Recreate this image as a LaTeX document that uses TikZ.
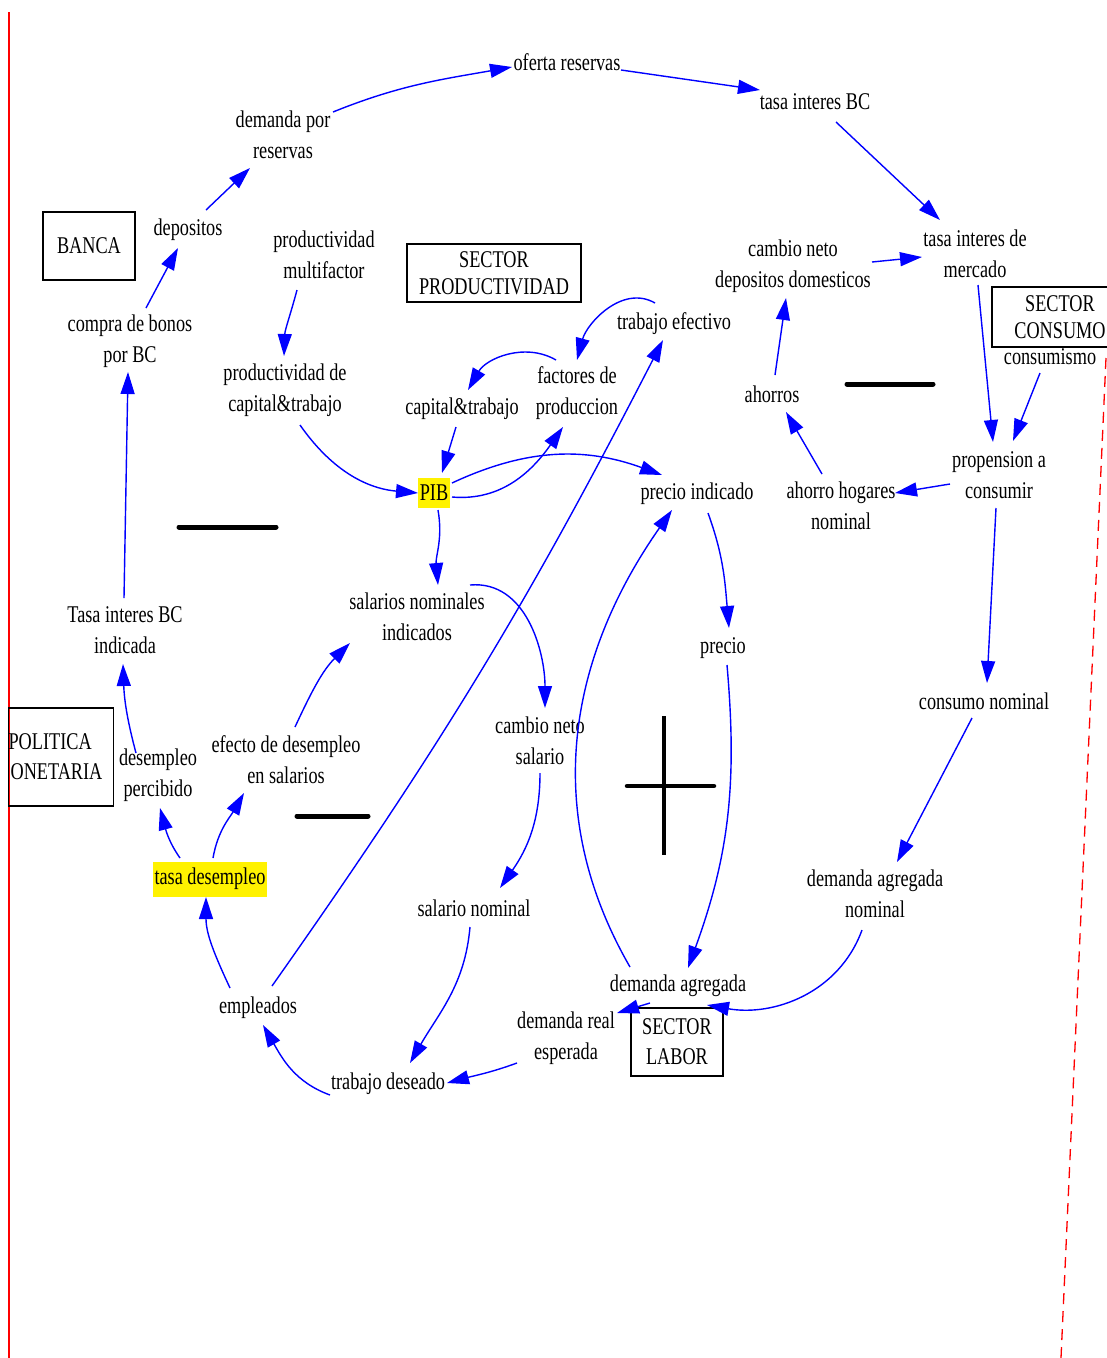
\documentclass[tikz,border=0pt]{standalone}
\usepackage{fontspec}
\setmainfont{Liberation Serif}[FakeStretch=0.76]
\usetikzlibrary{arrows.meta}
\begin{document}
\begin{tikzpicture}[x=1pt,y=1pt,
  lbl/.style={font=\fontsize{24}{31}\selectfont, align=center, inner sep=1pt},
  sect/.style={font=\fontsize{24}{27}\selectfont, align=center, draw=black, line width=1.2pt, inner sep=2pt},
  hl/.style={font=\fontsize{24}{31}\selectfont, fill=yellow, inner xsep=2pt, inner ysep=0pt},
  lnk/.style={draw=blue, line width=1.4pt, -{Triangle[length=22pt,width=14pt]}},
  bar/.style={line width=5pt, line cap=round},
]
\useasboundingbox (0,0) rectangle (1107,-1358);
\fill[white] (0,0) rectangle (1107,-1358);
% red margins
\draw[red, line width=1.6pt] (9,-12) -- (9,-1358);
\draw[red, line width=1.3pt, dash pattern=on 11pt off 7pt] (1106,-358) -- (1061,-1358);

% nodes
\node[lbl] (oferta) at (567,-62) {oferta reservas};
\node[lbl] (tibc) at (815,-102) {tasa interes BC};
\node[lbl] (demres) at (283,-135) {demanda por\\reservas};
\node[lbl] (depos) at (188,-230) {depositos};
\node[sect, minimum width=92, minimum height=68] (banca) at (89,-246) {BANCA};
\node[lbl] (pmf) at (324,-255) {productividad\\multifactor};
\node[sect, minimum width=174, minimum height=58] (sprod) at (494,-273) {SECTOR\\PRODUCTIVIDAD};
\node[lbl] (cndd) at (793,-266) {cambio neto\\depositos domesticos};
\node[lbl] (tim) at (975,-254) {tasa interes de\\mercado};
\node[sect, minimum width=136, minimum height=60] (scons) at (1060,-317) {SECTOR\\CONSUMO};
\node[lbl] (consm) at (1050,-357) {consumismo};
\node[lbl] (cbonos) at (130,-341) {compra de bonos\\por BC};
\node[lbl] (tefec) at (674,-324) {trabajo efectivo};
\node[lbl] (pct) at (285,-390) {productividad de\\capital\&trabajo};
\node[lbl] (ct) at (462,-409) {capital\&trabajo};
\node[lbl] (fprod) at (577,-393) {factores de\\produccion};
\node[lbl] (ahorros) at (772,-394) {ahorros};
\node[hl, minimum height=30] (pib) at (434,-493) {PIB};
\node[lbl] (pind) at (697,-494) {precio indicado};
\node[lbl] (prop) at (999,-475) {propension a\\consumir};
\node[lbl] (ahn) at (841,-506) {ahorro hogares\\nominal};
\node[lbl] (sni) at (417,-617) {salarios nominales\\indicados};
\node[lbl] (tibci) at (125,-630) {Tasa interes BC\\indicada};
\node[lbl] (precio) at (723,-648) {precio};
\node[lbl] (cnom) at (984,-701) {consumo nominal};
\node[sect, font=\fontsize{24}{30}\selectfont, minimum height=98, anchor=west, inner xsep=0pt, text width=105, align=left] (polm) at (8,-757) {POLITICA\\\hspace*{2pt}ONETARIA};
\node[lbl] (cns) at (540,-741) {cambio neto\\salario};
\node[lbl] (dper) at (158,-775) {desempleo\\percibido};
\node[lbl] (efd) at (286,-760) {efecto de desempleo\\en salarios};
\node[hl, minimum height=35] (tdes) at (210,-879) {tasa desempleo};
\node[lbl] (dan) at (875,-894) {demanda agregada\\nominal};
\node[lbl] (snom) at (474,-908) {salario nominal};
\node[lbl] (dagr) at (678,-986) {demanda agregada};
\node[lbl] (empl) at (258,-1008) {empleados};
\node[lbl] (dre) at (566,-1038) {demanda real\\esperada};
\node[sect, font=\fontsize{24}{30}\selectfont, minimum width=92, minimum height=68] (slab) at (677,-1042) {SECTOR\\LABOR};
\node[lbl] (tdeseado) at (388,-1084) {trabajo deseado};

% loop polarity marks
\draw[bar] (179,-527) -- (276,-527);
\draw[bar] (847,-384) -- (933,-384);
\draw[bar] (297,-816) -- (368,-816);
\draw[line width=4.5pt] (664,-716) -- (664,-855);
\draw[line width=4.5pt, line cap=round] (627,-786) -- (714,-786);

% connectors
\draw[lnk] ([shift={(50,23)}]demres.center) to[out=22,in=190] ([shift={(-55,-5)}]oferta.center);
\draw[lnk] ([shift={(54,-8)}]oferta.center) -- ([shift={(-55,12)}]tibc.center);
\draw[lnk] ([shift={(21,-20)}]tibc.center) -- ([shift={(-35,34)}]tim.center);
\draw[lnk] ([shift={(18,20)}]depos.center) -- ([shift={(-33,-33)}]demres.center);
\draw[lnk] ([shift={(16,33)}]cbonos.center) -- ([shift={(-10,-18)}]depos.center);
\draw[lnk] ([shift={(-1,32)}]tibci.center) -- ([shift={(-2,-31)}]cbonos.center);
\draw[lnk] ([shift={(-27,-35)}]pmf.center) to[out=-105,in=88] ([shift={(-1,34)}]pct.center);
\draw[lnk] ([shift={(79,4)}]cndd.center) -- ([shift={(-53,-3)}]tim.center);
\draw[lnk] ([shift={(3,-31)}]tim.center) -- ([shift={(-6,33)}]prop.center);
\draw[lnk] ([shift={(-10,-16)}]consm.center) -- ([shift={(14,34)}]prop.center);
\draw[lnk] ([shift={(-19,21)}]tefec.center) to[out=150,in=75] ([shift={(0,33)}]fprod.center);
\draw[lnk] ([shift={(-21,33)}]fprod.center) to[out=150,in=60] ([shift={(6,19)}]ct.center);
\draw[lnk] ([shift={(-6,-18)}]ct.center) -- ([shift={(8,20)}]pib.center);
\draw[lnk] ([shift={(15,-35)}]pct.center) to[out=-55,in=175] ([shift={(-16,0)}]pib.center);
\draw[lnk] ([shift={(18,-4)}]pib.center) to[out=-5,in=235] ([shift={(-14,-34)}]fprod.center);
\draw[lnk] ([shift={(18,10)}]pib.center) to[out=25,in=160] ([shift={(-35,19)}]pind.center);
\draw[lnk] ([shift={(14,22)}]empl.center) to[bend right=4] ([shift={(-11,-16)}]tefec.center);
\draw[lnk] ([shift={(4,-17)}]pib.center) to[out=-80,in=95] ([shift={(21,32)}]sni.center);
\draw[lnk] ([shift={(53,32)}]sni.center) to[out=5,in=90] ([shift={(5,33)}]cns.center);
\draw[lnk] ([shift={(0,-32)}]cns.center) to[out=-90,in=55] ([shift={(26,20)}]snom.center);
\draw[lnk] ([shift={(-4,-19)}]snom.center) to[out=-95,in=60] ([shift={(22,21)}]tdeseado.center);
\draw[lnk] ([shift={(-49,-25)}]dre.center) to[out=200,in=15] ([shift={(59,1)}]tdeseado.center);
\draw[lnk] ([shift={(-58,-11)}]tdeseado.center) to[out=160,in=-60] ([shift={(5,-17)}]empl.center);
\draw[lnk] ([shift={(-28,20)}]empl.center) to[out=115,in=-90] ([shift={(-4,-18)}]tdes.center);
\draw[lnk] ([shift={(-30,21)}]tdes.center) to[out=125,in=-75] ([shift={(2,-33)}]dper.center);
\draw[lnk] ([shift={(3,21)}]tdes.center) to[out=80,in=-120] ([shift={(-42,-33)}]efd.center);
\draw[lnk] ([shift={(9,33)}]efd.center) to[out=65,in=-135] ([shift={(-67,-26)}]sni.center);
\draw[lnk] ([shift={(-22,22)}]dper.center) to[out=105,in=-88] ([shift={(-2,-34)}]tibci.center);
\draw[lnk] ([shift={(11,-19)}]pind.center) to[out=-70,in=95] ([shift={(6,20)}]precio.center);
\draw[lnk] ([shift={(4,-17)}]precio.center) to[out=-85,in=70] ([shift={(10,18)}]dagr.center);
\draw[lnk] ([shift={(-48,19)}]dagr.center) to[out=120,in=235] ([shift={(-25,-16)}]pind.center);
\draw[lnk] ([shift={(-12,-17)}]cnom.center) -- ([shift={(22,32)}]dan.center);
\draw[lnk] ([shift={(-13,-36)}]dan.center) to[out=-110,in=-10] ([shift={(29,-19)}]dagr.center);
\draw[lnk] ([shift={(-28,-17)}]dagr.center) -- ([shift={(51,25)}]dre.center);
\draw[lnk] ([shift={(-49,-9)}]prop.center) -- ([shift={(54,13)}]ahn.center);
\draw[lnk] ([shift={(-3,-33)}]prop.center) -- ([shift={(3,18)}]cnom.center);
\draw[lnk] ([shift={(-19,32)}]ahn.center) -- ([shift={(14,-18)}]ahorros.center);
\draw[lnk] ([shift={(3,19)}]ahorros.center) -- ([shift={(-7,-32)}]cndd.center);
\end{tikzpicture}
\end{document}
